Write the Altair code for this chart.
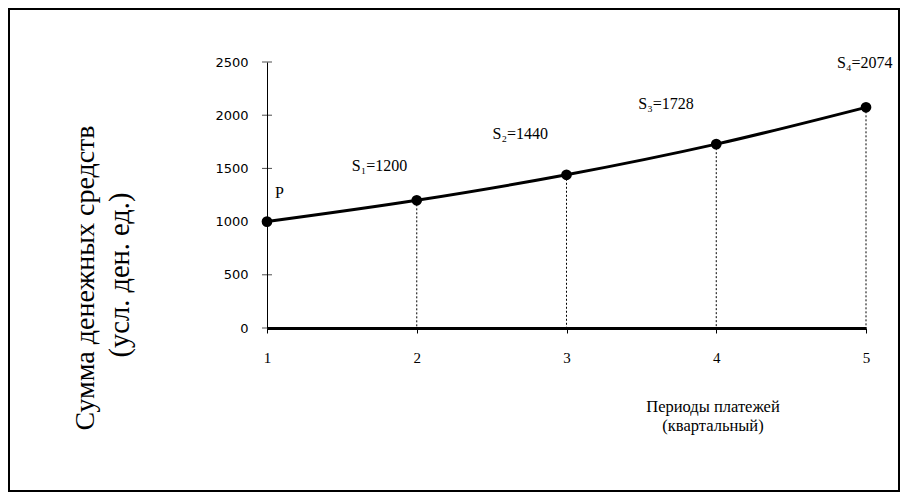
import altair as alt
import pandas as pd

periods = [1, 2, 3, 4, 5]
amounts = [1000, 1200, 1440, 1728, 2074]
point_labels = ["P", "S₁=1200", "S₂=1440", "S₃=1728", "S₄=2074"]
x_ticks = [1, 2, 3, 4, 5]
y_ticks = [0, 500, 1000, 1500, 2000, 2500]
y_title = ["Сумма денежных средств", "(усл. ден. ед.)"]
x_title = ["Периоды платежей", "(квартальный)"]

df = pd.DataFrame({"period": periods, "amount": amounts, "label": point_labels})
ticks_df = pd.DataFrame({"amount": y_ticks})
one = pd.DataFrame({"a": [0]})

W, H = 599, 266
SERIF = "'Times New Roman', 'Liberation Serif', 'DejaVu Serif', serif"

xs = alt.Scale(domain=[1, 5], nice=False, zero=False)
ys = alt.Scale(domain=[0, 2500], nice=False)

x_enc = alt.X(
    "period:Q", scale=xs,
    axis=alt.Axis(values=x_ticks, format="d", title=None, grid=False,
                  domainWidth=3, domainColor="black", tickColor="black",
                  tickSize=5, tickWidth=1, labelFont=SERIF, labelFontSize=15,
                  labelColor="black", labelPadding=17, labelFlush=False),
)
y_enc = alt.Y(
    "amount:Q", scale=ys,
    axis=alt.Axis(values=y_ticks, format="d", title=None, grid=False, ticks=False,
                  tickSize=0, domainColor="black", domainWidth=1,
                  labelFont="DejaVu Sans", labelFontSize=13, labelColor="black",
                  labelPadding=19, labelFlush=False),
)

base = alt.Chart(df)

border = alt.Chart(one).mark_rect(
    fill="white", fillOpacity=0, stroke="black", strokeWidth=2
).encode(x=alt.value(-258), x2=alt.value(632), y=alt.value(-53), y2=alt.value(429))

rules = base.transform_filter(alt.datum.period > 1).mark_rule(
    color="black", strokeWidth=1, strokeDash=[2, 2]
).encode(x=x_enc, y=y_enc, y2=alt.datum(0))

line = base.mark_line(interpolate="monotone", color="black", strokeWidth=3).encode(x=x_enc, y=y_enc)
pts = base.mark_circle(size=115, color="black", opacity=1).encode(x=x_enc, y=y_enc)

yticks = alt.Chart(ticks_df).mark_tick(
    color="black", thickness=1, size=10, orient="horizontal"
).encode(y=y_enc, x=alt.value(0))

offsets = [(8, -24), (-65, -29), (-74, -36), (-78, -35), (-29, -39)]
label_layers = []
for i, (dx, dy) in enumerate(offsets):
    label_layers.append(
        base.transform_filter(alt.datum.period == periods[i]).mark_text(
            align="left", baseline="alphabetic", dx=dx, dy=dy,
            font=SERIF, fontSize=16, color="black"
        ).encode(x=x_enc, y=y_enc, text="label:N")
    )

yt1 = alt.Chart(one).mark_text(
    text=y_title[0], angle=270, align="center", baseline="alphabetic",
    font=SERIF, fontSize=28, color="black"
).encode(x=alt.value(-173), y=alt.value(216))
yt2 = alt.Chart(one).mark_text(
    text=y_title[1], angle=270, align="center", baseline="alphabetic",
    font=SERIF, fontSize=28.5, color="black"
).encode(x=alt.value(-138), y=alt.value(213))
xt1 = alt.Chart(one).mark_text(
    text=x_title[0], align="center", baseline="alphabetic",
    font=SERIF, fontSize=16.5, color="black"
).encode(x=alt.value(446), y=alt.value(350))
xt2 = alt.Chart(one).mark_text(
    text=x_title[1], align="center", baseline="alphabetic",
    font=SERIF, fontSize=16.5, color="black"
).encode(x=alt.value(446), y=alt.value(369))

chart = alt.layer(
    border, rules, line, pts, yticks, *label_layers, yt1, yt2, xt1, xt2
).properties(
    width=W, height=H,
    padding={"left": 259, "top": 54, "right": 34, "bottom": 164},
    autosize=alt.AutoSizeParams(type="none"),
    background="white",
).configure_view(strokeWidth=0)

chart.save("out.html", embed_options={"renderer": "svg", "actions": False})
